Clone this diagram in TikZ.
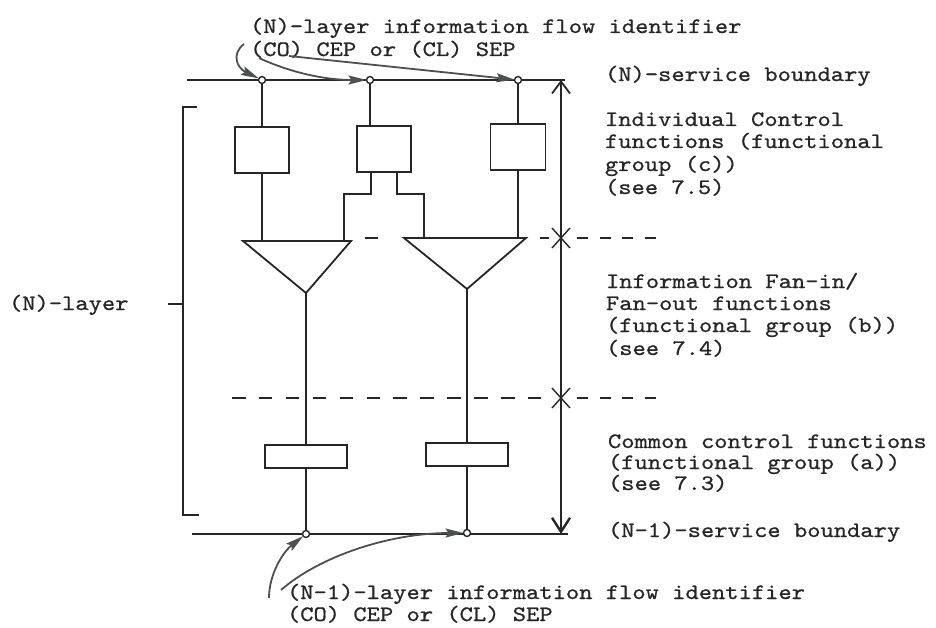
\documentclass[tikz,border=0pt]{standalone}
\usepackage{fontspec}
\setmonofont{lmmono10-regular.otf}[FakeStretch=1.15,FakeBold=0.8]
\usetikzlibrary{arrows.meta}
\definecolor{ink}{HTML}{262626}
\definecolor{pointer}{HTML}{4B514C}
\begin{document}
\begin{tikzpicture}[x=1pt,y=-1pt,
  every node/.style={inner sep=0pt, outer sep=0pt},
  lbl/.style={anchor=base west, font=\ttfamily\fontsize{22}{26}\selectfont, text=ink},
  wire/.style={draw=ink, line width=1.8pt},
  fnbox/.style={draw=ink, line width=1.8pt, rectangle},
  sap/.style={circle, draw=ink, fill=white, line width=1.4pt, minimum size=7pt},
  ptr/.style={draw=pointer, line width=1.8pt, -{Stealth[length=18pt,width=9pt,inset=3pt]}},
  farsep/.style={draw=ink, line width=1.6pt, dash pattern=on 13.5pt off 13.4pt},
  nearsep/.style={draw=ink, line width=1.6pt, dash pattern=on 11pt off 11.5pt},
  tick/.style={draw=ink, line width=1.4pt}]
\useasboundingbox (0,0) rectangle (936,628);

% service boundaries
\coordinate (nb0) at (187,80);  \coordinate (nb1) at (565,80);
\coordinate (mb0) at (192,534); \coordinate (mb1) at (568,534);
\draw[wire] (nb0) -- (nb1);
\draw[wire] (mb0) -- (mb1);

% layer extent arrow with group separators
\coordinate (va) at (561,80); \coordinate (vb) at (561,534);
\draw[wire, {Straight Barb[length=12pt,width=18pt]}-{Straight Barb[length=14pt,width=18pt,line width=2.4pt]}] (va) -- (vb);
\draw[tick] (552,228) -- (570,248) (570,228) -- (552,248);
\draw[tick] (552,388) -- (570,408) (570,388) -- (552,408);

% separators between functional groups
\draw[wire, line width=1.6pt] (365,238) -- (378,238);
\draw[wire, line width=1.6pt] (540,238) -- (549,238);
\draw[nearsep] (577,238) -- (660,238);
\draw[farsep] (232,398) -- (545,398);
\draw[nearsep] (577,398) -- (660,398);

% (N)-layer bracket
\draw[wire] (197,107) -- (183,107) -- (183,515) -- (199,515);
\draw[wire] (168,304) -- (183,304);
\node[lbl] (layer) at (9,310) {(N)-layer};

% individual control functions
\node[fnbox, minimum width=54pt, minimum height=46pt] (c1) at (262,150) {};
\node[fnbox, minimum width=54pt, minimum height=46pt] (c2) at (384,149) {};
\node[fnbox, minimum width=55pt, minimum height=46pt] (c3) at (518,147) {};

% fan-in / fan-out triangles
\coordinate (t1l) at (243,241); \coordinate (t1r) at (351,241); \coordinate (t1a) at (306,293);
\coordinate (t2l) at (404,238); \coordinate (t2r) at (526,238); \coordinate (t2a) at (467,289);
\draw[wire, line join=miter] (t1l) -- (t1r) -- (t1a) -- cycle;
\draw[wire, line join=miter] (t2l) -- (t2r) -- (t2a) -- cycle;

% common control functions
\node[fnbox, minimum width=82pt, minimum height=23pt] (a1) at (306,456.5) {};
\node[fnbox, minimum width=82pt, minimum height=23pt] (a2) at (467,454.5) {};

% service access points
\node[sap] (n1) at (262,80) {};
\node[sap] (n2) at (370,80) {};
\node[sap] (n3) at (518,80) {};
\node[sap] (m1) at (306,534) {};
\node[sap] (m2) at (467,533) {};

% vertical information paths
\draw[wire] (n1) -- (c1.north);
\draw[wire] (c1.south) -- (c1.south |- t1l);
\draw[wire] (n2) -- (n2 |- c2.north);
\draw[wire] ([xshift=-13pt]c2.south) -- ++(0,22) -| (344,241);
\draw[wire] ([xshift=13pt]c2.south) -- ++(0,22) -| (424,238);
\draw[wire] (n3) -- (c3.north);
\draw[wire] (c3.south) -- (c3.south |- t2r);
\draw[wire] (t1a) -- (a1.north);
\draw[wire] (a1.south) -- (m1);
\draw[wire] (t2a) -- (a2.north);
\draw[wire] (a2.south) -- (m2);

% (N)-layer identifiers
\node[lbl] (top1) at (250,33) {(N)-layer information flow identifier};
\node[lbl] (top2) at (250,56) {(CO) CEP or (CL) SEP};
\coordinate (s1) at (244,44);
\coordinate (s2) at (259,58);
\coordinate (s3) at (289,56);
\draw[ptr] (s1) .. controls (231,54) and (237,68) .. (n1);
\draw[ptr] (s2) .. controls (287,71) and (322,80) .. (n2);
\draw[ptr] (s3) -- (n3);

% (N-1)-layer identifiers
\node[lbl] (bot1) at (287,599) {(N-1)-layer information flow identifier};
\node[lbl] (bot2) at (287,621) {(CO) CEP or (CL) SEP};
\coordinate (u1) at (269,598);
\coordinate (u2) at (281,590);
\draw[ptr] (u1) .. controls (269,574) and (283,552) .. (m1);
\draw[ptr] (u2) .. controls (320,556) and (390,533) .. (m2);

% right-hand descriptions
\node[lbl] (r1) at (605,81) {(N)-service boundary};
\node[lbl] (r2) at (605,126) {Individual Control};
\node[lbl] (r3) at (605,148) {functions (functional};
\node[lbl] (r4) at (605,171) {group (c))};
\node[lbl] (r5) at (605,194) {(see 7.5)};
\node[lbl] (r6) at (606,288) {Information Fan-in/};
\node[lbl] (r7) at (606,310) {Fan-out functions};
\node[lbl] (r8) at (606,332) {(functional group (b))};
\node[lbl] (r9) at (606,355) {(see 7.4)};
\node[lbl] (r10) at (608,448) {Common control functions};
\node[lbl] (r11) at (608,469) {(functional group (a))};
\node[lbl] (r12) at (608,490) {(see 7.3)};
\node[lbl] (r13) at (608,537) {(N-1)-service boundary};
\end{tikzpicture}
\end{document}
